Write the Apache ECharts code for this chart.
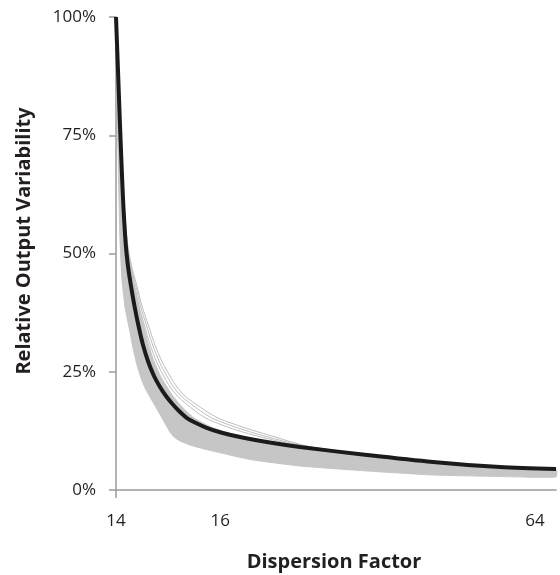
<!DOCTYPE html>
<html>
<head>
<meta charset="utf-8">
<script src="https://cdn.jsdelivr.net/npm/echarts@6/dist/echarts.min.js"></script>
<style>html,body{margin:0;padding:0;background:#fff;}#c{width:560px;height:575px;}</style>
</head>
<body>
<div id="c"></div>
<script>
// x is the position along the dispersion-factor axis (0 = left end, 100 = right end)
var xTickPositions = [0, 23.7, 95.2];
var xTickLabels = ['14', '16', '64'];
var yTicks = [0, 25, 50, 75, 100];

// mean curve (black)
var meanX = [0, 0.45, 0.91, 1.36, 1.7, 2.05, 2.39, 2.84, 3.41, 4.2, 5.07, 6.14, 7.34, 8.64, 10.0, 11.36, 12.73, 14.32, 16.14, 18.18, 20.45, 23.86, 28.18, 35.68, 41.82, 57.05, 72.05, 87.27, 100];
var meanY = [100, 88.79, 77.17, 66.6, 59.62, 54.12, 50.11, 46.51, 43.13, 38.9, 34.88, 30.66, 27.06, 24.1, 21.78, 19.87, 18.29, 16.7, 15.22, 14.16, 13.21, 12.16, 11.21, 9.94, 9.09, 7.4, 5.92, 4.86, 4.44];

// dense band of simulated runs: upper edge (same y readings as the mean) and lower edge
var bandHighX = [0.11, 0.52, 0.98, 1.48, 1.86, 2.27, 2.73, 3.34, 4.09, 5.07, 6.2, 7.39, 8.7, 10.11, 11.59, 12.95, 14.32, 15.91, 17.73, 19.77, 21.82, 25.0, 29.09, 36.36, 42.5, 57.5, 72.27, 87.39, 100];
var bandHighY = meanY;
var bandLowX = [0, 0.23, 0.45, 0.68, 0.91, 1.36, 2.05, 2.61, 3.18, 3.86, 4.77, 5.84, 6.82, 7.73, 8.64, 9.55, 10.45, 11.36, 12.27, 13.18, 14.55, 16.82, 20.0, 22.95, 30.45, 41.82, 57.05, 72.05, 87.27, 100];
var bandLowY = [100, 84.57, 71.88, 61.31, 52.85, 44.4, 38.69, 35.94, 33.4, 30.02, 26.43, 23.26, 21.14, 19.66, 18.18, 16.7, 15.22, 13.74, 12.26, 11.21, 10.36, 9.51, 8.67, 8.03, 6.45, 5.07, 4.02, 3.17, 2.85, 2.75];

// individual outlying runs (thin grey), read at the same heights as the mean
var runY = [100, 88.79, 77.17, 66.6, 59.62, 54.12, 50.11, 46.51, 43.13, 38.9, 34.88, 30.66, 27.06, 24.1, 21.78, 19.87, 18.29, 16.7, 15.22, 14.16, 13.21, 12.16, 11.21, 9.94, 9.09, 7.4];
var run1X = [0, 0.52, 1.02, 1.55, 1.93, 2.39, 2.95, 3.75, 4.77, 5.91, 7.34, 8.86, 10.52, 12.27, 13.86, 15.68, 17.95, 20.45, 23.18, 26.14, 29.09, 32.73, 36.14, 40.68, 44.55, 57.73];
var run2X = [0, 0.51, 1.0, 1.51, 1.89, 2.32, 2.84, 3.57, 4.5, 5.57, 6.89, 8.32, 9.89, 11.55, 13.09, 14.82, 16.91, 19.23, 21.77, 24.55, 27.36, 30.95, 34.55, 39.68, 44.0, 57.59];
var run3X = [0, 0.5, 0.98, 1.47, 1.84, 2.25, 2.73, 3.39, 4.23, 5.23, 6.43, 7.77, 9.25, 10.82, 12.32, 13.95, 15.86, 18.0, 20.36, 22.95, 25.64, 29.18, 32.95, 38.68, 43.45, 57.45];

function pairs(xs, ys) { return xs.map(function (x, i) { return [x, ys[i]]; }); }

var labelMap = {};
xTickPositions.forEach(function (p, i) { labelMap[p] = xTickLabels[i]; });

var grey = '#c6c6c6';
var font = '"Open Sans", "Liberation Sans", sans-serif';

function thinRun(xs, ys) {
  return {
    type: 'line', data: pairs(xs, ys), smooth: 0.3, symbol: 'none',
    lineStyle: { color: '#bdbdbd', width: 1 }, z: 3, silent: true
  };
}

var chart = echarts.init(document.getElementById('c'), null, { renderer: 'canvas' });
chart.setOption({
  animation: false,
  backgroundColor: '#fff',
  grid: { left: 116, right: 4, top: 17, bottom: 85, containLabel: false },
  xAxis: {
    type: 'value', min: 0, max: 100,
    axisLine: { lineStyle: { color: '#9a9a9a', width: 1.5 } },
    axisTick: { show: true, customValues: [0], length: 8, lineStyle: { color: '#9a9a9a', width: 1.5 } },
    axisLabel: {
      customValues: xTickPositions, margin: 23, fontSize: 17, color: '#231f20', fontFamily: font,
      formatter: function (v) { return labelMap[v] !== undefined ? labelMap[v] : ''; }
    },
    splitLine: { show: false }
  },
  yAxis: {
    type: 'value', min: 0, max: 100, interval: 25,
    axisLine: { show: true, lineStyle: { color: '#9a9a9a', width: 1.5 } },
    axisTick: { show: true, length: 7, lineStyle: { color: '#9a9a9a', width: 1.5 } },
    axisLabel: { margin: 20, fontSize: 17, color: '#231f20', fontFamily: font, formatter: '{value}%' },
    splitLine: { show: false }
  },
  graphic: [
    { type: 'text', x: 24, y: 241, rotation: Math.PI / 2,
      style: { text: 'Relative Output Variability', fontSize: 20, fontWeight: 'bold', fontFamily: font,
               fill: '#231f20', align: 'center', verticalAlign: 'middle' } },
    { type: 'text', x: 334, y: 562,
      style: { text: 'Dispersion Factor', fontSize: 20, fontWeight: 'bold', fontFamily: font,
               fill: '#231f20', align: 'center', verticalAlign: 'middle' } }
  ],
  series: [
    {
      type: 'custom', silent: true, z: 2,
      data: [0],
      renderItem: function (params, api) {
        var low = pairs(bandLowX, bandLowY).map(function (p) { return api.coord(p); });
        var high = pairs(bandHighX, bandHighY).map(function (p) { return api.coord(p); });
        var pts = high.concat(low.slice().reverse());
        return { type: 'polygon', shape: { points: pts, smooth: 0.15 }, style: { fill: grey, stroke: grey, lineWidth: 1 } };
      }
    },
    thinRun(run1X, runY),
    thinRun(run2X, runY),
    thinRun(run3X, runY),
    {
      type: 'line', data: pairs(meanX, meanY), smooth: 0.3, symbol: 'none', z: 5,
      lineStyle: { color: '#1c1a1b', width: 4 }
    }
  ]
});
</script>
</body>
</html>
